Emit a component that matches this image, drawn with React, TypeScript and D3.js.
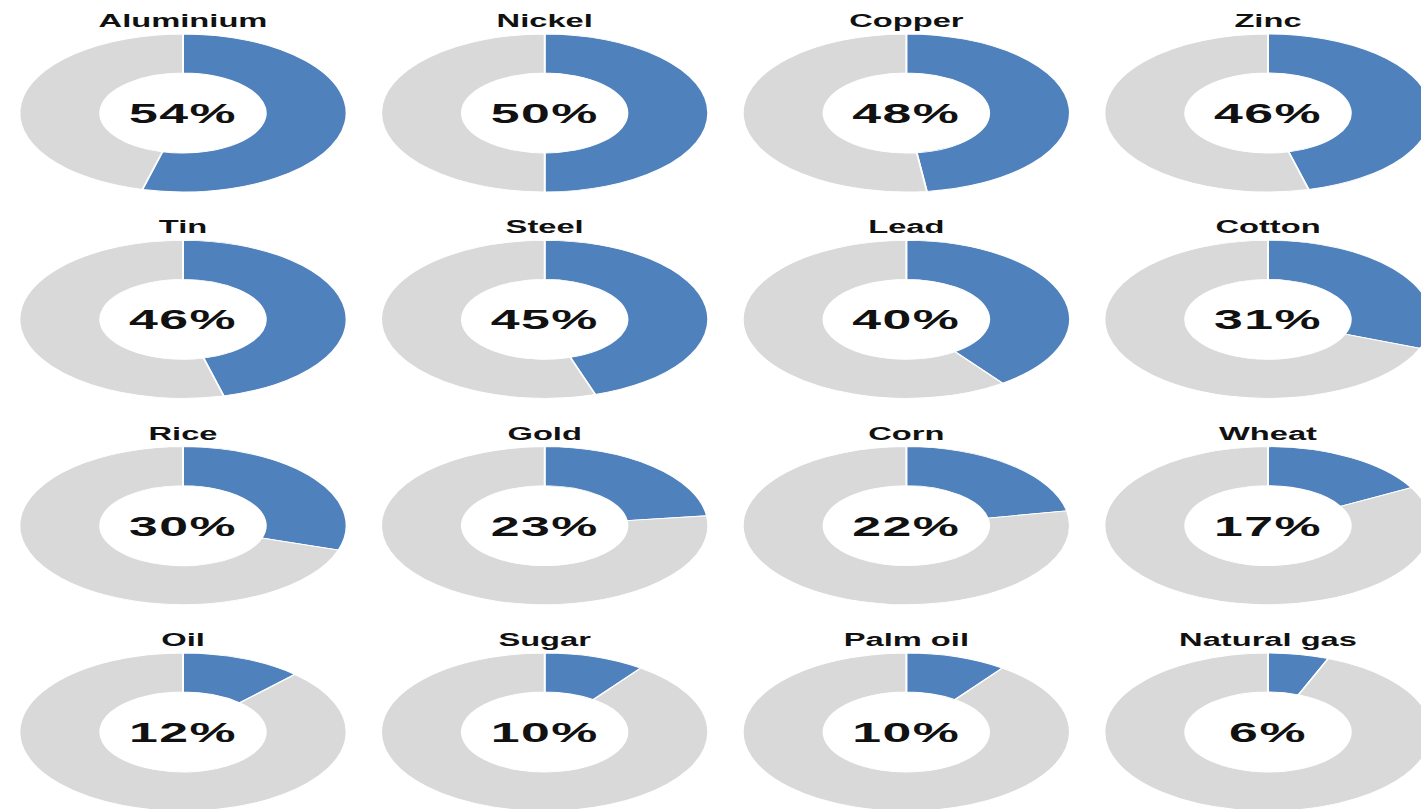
import React from "react";
import * as d3 from "d3";

// Share of each commodity (percent), read left-to-right, top-to-bottom
const commodities = [
  "Aluminium", "Nickel", "Copper", "Zinc",
  "Tin", "Steel", "Lead", "Cotton",
  "Rice", "Gold", "Corn", "Wheat",
  "Oil", "Sugar", "Palm oil", "Natural gas",
];
const shares = [54, 50, 48, 46, 46, 45, 40, 31, 30, 23, 22, 17, 12, 10, 10, 6];

const WIDTH = 1421;
const HEIGHT = 809;
const COLS = 4;
const BLUE = "#4f81bd";
const GREY = "#d9d9d9";
const FONT = "'Liberation Sans', Arial, Helvetica, sans-serif";

// Donuts are drawn circular and then widened horizontally
const SX = 2.07;
const TITLE_SX = 1.72;
const VALUE_SX = 1.85;
const OUTER = 79;
const INNER = 40;

const colX = d3.scaleLinear().domain([0, COLS - 1]).range([183, 1268]);
const rowY = d3.scaleLinear().domain([0, 3]).range([113, 732]);

const pie = d3
  .pie<number>()
  .sort(null)
  .value((d) => d);

const arc = d3
  .arc<d3.PieArcDatum<number>>()
  .innerRadius(INNER)
  .outerRadius(OUTER);

export default function App() {
  return (
    <svg
      width={WIDTH}
      height={HEIGHT}
      style={{ position: "absolute", left: 0, top: 0, display: "block", background: "#fff" }}
    >
      {commodities.map((name, i) => {
        const v = shares[i];
        const cx = colX(i % COLS);
        const cy = rowY(Math.floor(i / COLS));
        const slices = pie([v, 100 - v]);
        return (
          <g key={name} transform={`translate(${cx},${cy})`}>
            <g transform={`scale(${SX},1)`}>
              {slices.map((s, k) => (
                <path
                  key={k}
                  d={arc(s) || ""}
                  fill={k === 0 ? BLUE : GREY}
                  stroke="#fff"
                  strokeWidth={0.9}
                />
              ))}
            </g>
            <text
              transform={`translate(0,-86) scale(${TITLE_SX},1)`}
              textAnchor="middle"
              fontFamily={FONT}
              fontWeight="bold"
              fontSize={19}
              fill="#111"
            >
              {name}
            </text>
            <text
              transform={`translate(0,10) scale(${VALUE_SX},1)`}
              textAnchor="middle"
              fontFamily={FONT}
              fontWeight="bold"
              fontSize={28}
              letterSpacing={0.8}
              fill="#111"
            >
              {`${v}%`}
            </text>
          </g>
        );
      })}
    </svg>
  );
}
